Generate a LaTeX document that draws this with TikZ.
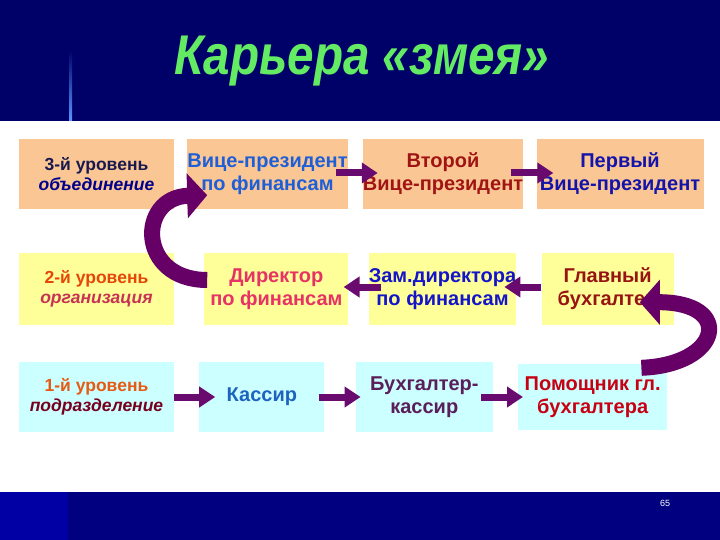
\documentclass[tikz,border=0pt]{standalone}
\usepackage{fontspec}
\setmainfont{Liberation Sans}
\newfontfamily\titlefont[FakeStretch=0.85]{Liberation Sans}
\usepackage{tikz}
\usetikzlibrary{positioning,arrows.meta,calc}
\definecolor{navytop} {RGB}{0,0,105}
\definecolor{navybot} {RGB}{0,0,128}
\definecolor{navyleft}{RGB}{0,0,165}
\definecolor{titlecol}{RGB}{100,235,100}
\definecolor{peachcol}{RGB}{250,199,148}
\definecolor{yellcol} {RGB}{255,255,153}
\definecolor{cyancol} {RGB}{204,255,255}
\definecolor{arrcol}  {RGB}{105,10,110}
\definecolor{snakecol}{RGB}{102,0,102}
% text colours
\definecolor{inkA}{RGB}{25,25,80}
\definecolor{inkAi}{RGB}{0,0,140}
\definecolor{inkB}{RGB}{30,95,215}
\definecolor{inkC}{RGB}{160,20,20}
\definecolor{inkD}{RGB}{20,20,170}
\definecolor{inkE}{RGB}{230,70,10}
\definecolor{inkEi}{RGB}{200,50,85}
\definecolor{inkF}{RGB}{230,50,100}
\definecolor{inkG}{RGB}{20,20,200}
\definecolor{inkH}{RGB}{150,20,20}
\definecolor{inkI}{RGB}{230,90,20}
\definecolor{inkIi}{RGB}{120,0,30}
\definecolor{inkJ}{RGB}{30,100,190}
\definecolor{inkK}{RGB}{90,30,90}
\definecolor{inkL}{RGB}{200,0,20}

\begin{document}
\begin{tikzpicture}[
  x=1pt,y=-1pt,
  blk/.style={rectangle,fill=#1,inner sep=0pt,align=center,
              font=\fontsize{20}{23}\selectfont\bfseries},
  lvl/.style={blk=#1,minimum width=155pt,
              font=\fontsize{17.5}{20}\selectfont\bfseries},
  arr/.style={-{Triangle[length=16pt,width=20pt]},line width=7pt,arrcol},
  snake/.style={-{Triangle[length=20pt,width=44pt]},line width=16pt,snakecol}
]
\useasboundingbox (0,0) rectangle (720,540);
\fill[navytop] (0,0) rectangle (720,121);
\fill[navybot] (0,492) rectangle (720,540);
\fill[navyleft] (0,492) rectangle (68,540);
\shade[top color=navytop,bottom color={rgb,255:red,90;green,150;blue,255}]
  (69,50) rectangle (72,121);
\node[font=\titlefont\fontsize{56}{60}\selectfont\bfseries\itshape,
      text=titlecol,anchor=base] (title) at (362,75) {Карьера «змея»};
\node[font=\fontsize{9}{10}\selectfont,text=white] (pnum) at (665,503) {65};

% level 3
\node[lvl=peachcol,minimum height=70pt] (a) at (96.5,174)
  {{\color{inkA}3-й уровень}\\{\color{inkAi}\itshape объединение}};
\node[blk=peachcol,text=inkB,minimum width=160pt,minimum height=70pt,right=13pt of a] (b)
  {Вице-президент\\по финансам};
\node[blk=peachcol,text=inkC,minimum width=160pt,minimum height=70pt,right=15pt of b] (c)
  {Второй\\Вице-президент};
\node[blk=peachcol,text=inkD,minimum width=167pt,minimum height=70pt,right=13pt of c] (d)
  {Первый\\Вице-президент};
% level 2
\node[lvl=yellcol,minimum height=72pt] (e) at (96.5,289)
  {{\color{inkE}2-й уровень}\\{\color{inkEi}\itshape организация}};
\node[blk=yellcol,text=inkF,minimum width=144pt,minimum height=72pt,right=30pt of e] (f)
  {Директор\\по финансам};
\node[blk=yellcol,text=inkG,minimum width=147pt,minimum height=72pt,right=20pt of f] (g)
  {Зам.директора\\по финансам};
\node[blk=yellcol,text=inkH,minimum width=132pt,minimum height=72pt,right=25pt of g] (h)
  {Главный\\бухгалтер};
% level 1
\node[lvl=cyancol,minimum height=70pt] (i) at (96.5,397)
  {{\color{inkI}1-й уровень}\\{\color{inkIi}\itshape подразделение}};
\node[blk=cyancol,text=inkJ,minimum width=125pt,minimum height=70pt,right=25pt of i] (j)
  {Кассир};
\node[blk=cyancol,text=inkK,minimum width=137pt,minimum height=70pt,right=31pt of j] (k)
  {Бухгалтер-\\кассир};
\node[blk=cyancol,text=inkL,minimum width=149pt,minimum height=66pt,right=25pt of k] (l)
  {Помощник гл.\\бухгалтера};

\draw[arr] (i.east) -- ([xshift=16pt]j.west);
\draw[arr] ([xshift=-6pt]j.east) -- ([xshift=5pt]k.west);
\draw[arr] ([xshift=-12pt]k.east) -- ([xshift=5pt]l.west);
\draw[arr] ([yshift=2pt]h.west) -- ([xshift=-12pt,yshift=2pt]g.east);
\draw[arr] ([xshift=12pt,yshift=2pt]g.west) -- ([xshift=-5pt,yshift=2pt]f.east);
\draw[arr] ([xshift=-12pt,yshift=1pt]b.east) -- ([xshift=15pt,yshift=1pt]c.west);
\draw[arr] ([xshift=-12pt,yshift=1pt]c.east) -- ([xshift=17pt,yshift=1pt]d.west);

\draw[snake] ($(l.north east)+(-26,4)$) .. controls +(80,-3) and +(95,0) ..
  ($(h.south east)+(-34,-23)$);
\draw[snake] ($(f.west)+(3,-9)$) .. controls +(-70,0) and +(-70,2) ..
  ($(b.south west)+(20,-14)$);
\end{tikzpicture}
\end{document}
